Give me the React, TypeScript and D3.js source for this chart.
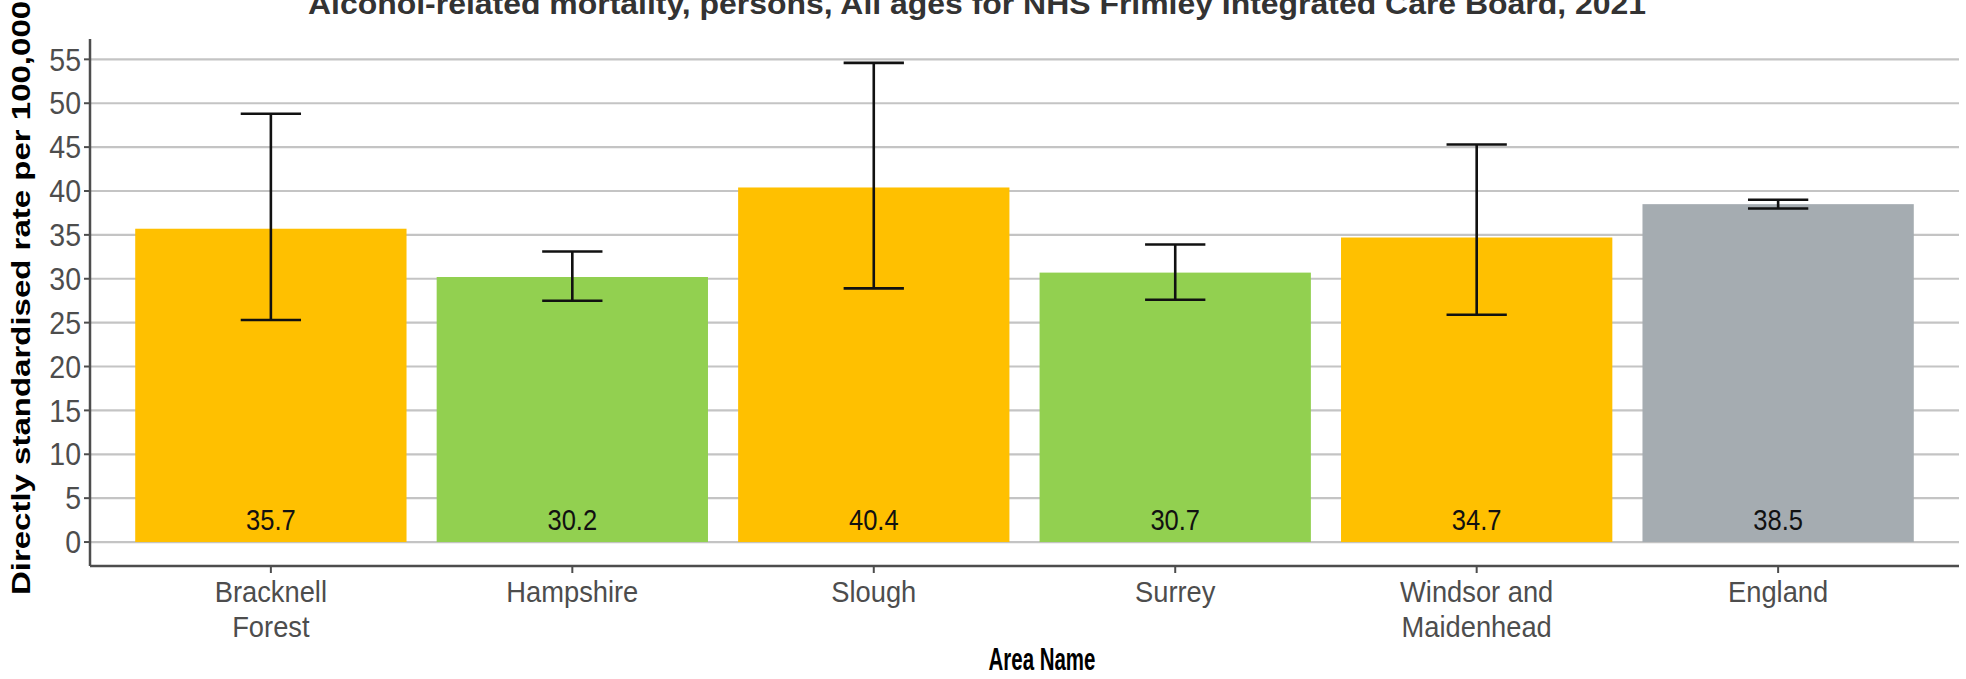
import React from "react";
import * as d3 from "d3";

const categories = ["Bracknell Forest", "Hampshire", "Slough", "Surrey", "Windsor and Maidenhead", "England"];
const tickLabelLines = [["Bracknell", "Forest"], ["Hampshire"], ["Slough"], ["Surrey"], ["Windsor and", "Maidenhead"], ["England"]];
const values = [35.7, 30.2, 40.4, 30.7, 34.7, 38.5];
const lowerCI = [25.3, 27.5, 28.9, 27.6, 25.9, 38.0];
const upperCI = [48.8, 33.1, 54.6, 33.9, 45.3, 39.0];
const comparison = ["Similar", "Better", "Similar", "Better", "Similar", "England"];
const yTicks = [0, 5, 10, 15, 20, 25, 30, 35, 40, 45, 50, 55];

const titleText = "Alcohol-related mortality, persons, All ages for NHS Frimley Integrated Care Board, 2021";
const yTitle = "Directly standardised rate per 100,000";
const xTitle = "Area Name";

const colorMap: Record<string, string> = {
  Similar: "#FFC000",
  Better: "#92D050",
  England: "#A5ACB1",
};

const W = 1966;
const H = 679;
const panel = { left: 90, right: 1959, top: 38.9, bottom: 566 };
const FONT = "'Liberation Sans', Arial, Helvetica, sans-serif";

export default function App() {
  const ymax = d3.max(upperCI) as number;
  const y = d3
    .scaleLinear()
    .domain([-0.05 * ymax, 1.05 * ymax])
    .range([panel.bottom, panel.top]);
  const x = d3
    .scaleBand<string>()
    .domain(categories)
    .range([panel.left, panel.right])
    .paddingInner(0)
    .paddingOuter(0.1);
  const step = x.bandwidth();
  const barW = step * 0.9;
  const capW = step * 0.2;
  const cx = (c: string) => (x(c) as number) + step / 2;

  return (
    <svg
      width={W}
      height={H}
      style={{ position: "absolute", left: 0, top: 0, background: "#fff" }}
      fontFamily={FONT}
    >
      <rect x={0} y={0} width={W} height={H} fill="#ffffff" />
      {/* gridlines */}
      {yTicks.map((t) => (
        <line key={"g" + t} x1={panel.left} x2={panel.right} y1={y(t)} y2={y(t)} stroke="#C4C4C4" strokeWidth={2.2} />
      ))}
      {/* bars */}
      {categories.map((c, i) => (
        <rect
          key={"b" + c}
          x={cx(c) - barW / 2}
          y={y(values[i])}
          width={barW}
          height={y(0) - y(values[i])}
          fill={colorMap[comparison[i]]}
        />
      ))}
      {/* error bars */}
      {categories.map((c, i) => (
        <g key={"e" + c} stroke="#111" strokeWidth={2.6} fill="none">
          <line x1={cx(c)} x2={cx(c)} y1={y(lowerCI[i])} y2={y(upperCI[i])} />
          <line x1={cx(c) - capW / 2} x2={cx(c) + capW / 2} y1={y(lowerCI[i])} y2={y(lowerCI[i])} />
          <line x1={cx(c) - capW / 2} x2={cx(c) + capW / 2} y1={y(upperCI[i])} y2={y(upperCI[i])} />
        </g>
      ))}
      {/* value labels */}
      {categories.map((c, i) => (
        <text
          key={"v" + c}
          transform={`translate(${cx(c)},${y(0) - 12}) scale(0.88,1)`}
          textAnchor="middle"
          fontSize={29}
          fill="#111"
        >
          {values[i].toFixed(1)}
        </text>
      ))}
      {/* axes */}
      <line x1={panel.left} x2={panel.left} y1={panel.top} y2={panel.bottom} stroke="#4D4D4D" strokeWidth={2.5} />
      <line x1={panel.left} x2={panel.right} y1={panel.bottom} y2={panel.bottom} stroke="#4D4D4D" strokeWidth={2.5} />
      {yTicks.map((t) => (
        <g key={"yt" + t}>
          <line x1={panel.left - 6} x2={panel.left} y1={y(t)} y2={y(t)} stroke="#4D4D4D" strokeWidth={2} />
          <text
            transform={`translate(${panel.left - 9},${y(t)}) scale(0.92,1)`}
            textAnchor="end"
            dy="0.36em"
            fontSize={31}
            fill="#4D4D4D"
          >
            {t}
          </text>
        </g>
      ))}
      {categories.map((c, i) => (
        <g key={"xt" + c}>
          <line x1={cx(c)} x2={cx(c)} y1={panel.bottom} y2={panel.bottom + 7} stroke="#4D4D4D" strokeWidth={2} />
          {tickLabelLines[i].map((ln, j) => (
            <text
              key={j}
              transform={`translate(${cx(c)},${602 + j * 35}) scale(0.91,1)`}
              textAnchor="middle"
              fontSize={30}
              fill="#4D4D4D"
            >
              {ln}
            </text>
          ))}
        </g>
      ))}
      {/* titles */}
      <text x={977} y={14} textAnchor="middle" fontSize={30} fontWeight="bold" fill="#333" textLength={1338} lengthAdjust="spacingAndGlyphs">
        {titleText}
      </text>
      <text transform={`translate(30,298) scale(0.8,1) rotate(-90)`} textAnchor="middle" fontSize={33} fontWeight="bold" fill="#000">
        {yTitle}
      </text>
      <text transform={`translate(1042,670) scale(0.66,1)`} textAnchor="middle" fontSize={31} fontWeight="bold" fill="#000">
        {xTitle}
      </text>
    </svg>
  );
}
